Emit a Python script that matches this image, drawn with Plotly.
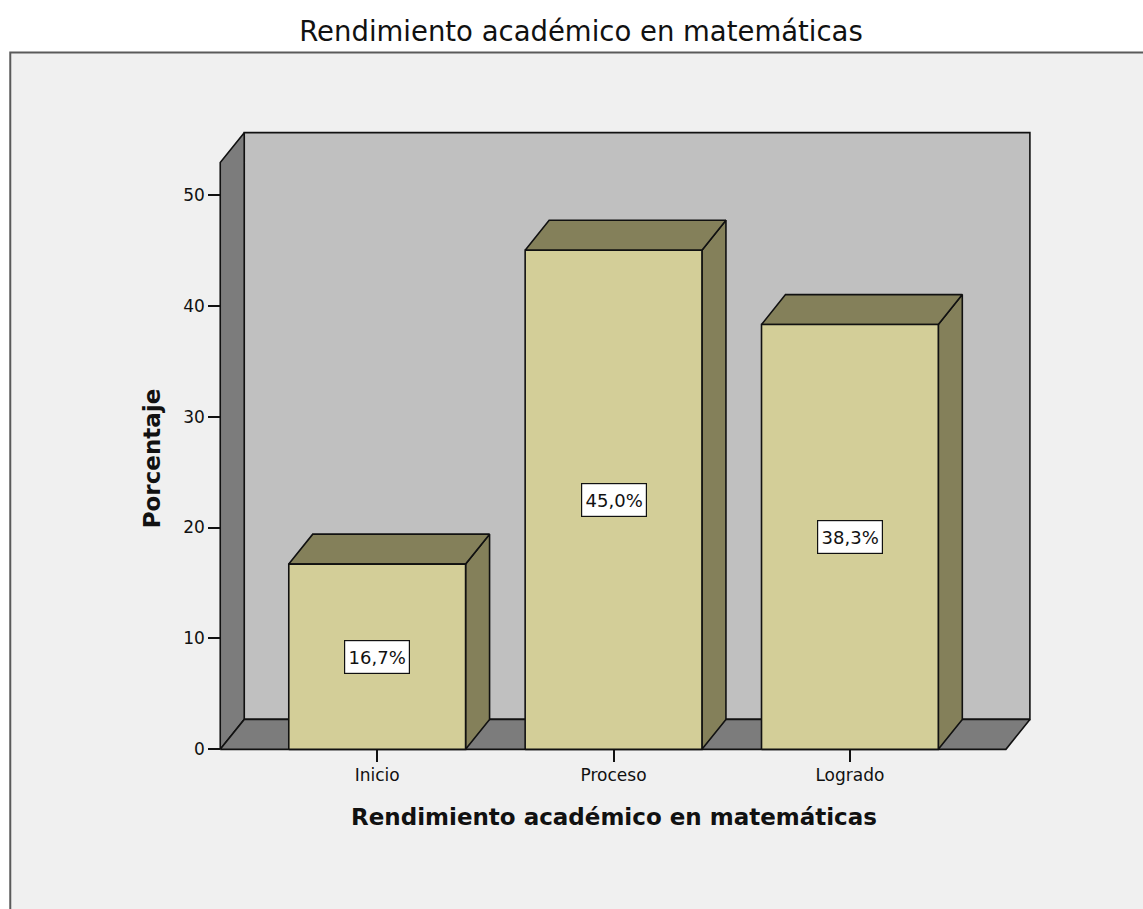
import plotly.graph_objects as go

# ---- data ----
categories = ["Inicio", "Proceso", "Logrado"]
percentages = [16.7, 45.0, 38.3]
y_ticks = [0, 10, 20, 30, 40, 50]
title_text = "Rendimiento académico en matemáticas"
x_title = "Rendimiento académico en matemáticas"
y_title = "Porcentaje"

# ---- style / geometry ----
FONT = "DejaVu Sans"
W, H = 1143, 909
HALF = 0.374                 # half bar width (category units)
DX, DY = 0.1015, 2.7         # 3D depth offset (data units)
X0, X1 = -0.664, 2.66        # front plane extent
YTOP = 52.9                  # front wall top
XMIN, XMAX = -0.72, 2.80
YMIN, YMAX = -0.6, 56.2
PXX, PXY = 236.4, 11.08      # px per unit
X0PX, Y0PX = 220, 749        # pixel of (X0, 0)

left = X0PX - (X0 - XMIN) * PXX
pw = (XMAX - XMIN) * PXX
bottom_px = Y0PX + (0 - YMIN) * PXY
ph = (YMAX - YMIN) * PXY
m_l = left
m_r = W - left - pw
m_b = H - bottom_px
m_t = bottom_px - ph

def px_to_paper_x(p):
    return (p - left) / pw

def px_to_paper_y(p):
    return (bottom_px - p) / ph

FRONT = "#d3ce98"
DARK = "#84805a"
BACKWALL = "#c0c0c0"
SIDEWALL = "#7c7c7c"
EDGE = "#111111"

fig = go.Figure()

def poly(xs, ys, color):
    fig.add_trace(go.Scatter(
        x=xs + [xs[0]], y=ys + [ys[0]], mode="lines", fill="toself",
        fillcolor=color, line=dict(color=EDGE, width=1.6),
        hoverinfo="skip", showlegend=False))

# back wall
poly([X0 + DX, X1 + DX, X1 + DX, X0 + DX], [DY, DY, YTOP + DY, YTOP + DY], BACKWALL)
# left wall
poly([X0, X0, X0 + DX, X0 + DX], [0, YTOP, YTOP + DY, DY], SIDEWALL)
# floor
poly([X0, X1, X1 + DX, X0 + DX], [0, 0, DY, DY], SIDEWALL)

# bars
for i, v in enumerate(percentages):
    a, b = i - HALF, i + HALF
    poly([b, b, b + DX, b + DX], [0, v, v + DY, DY], DARK)                # side
    poly([a, b, b + DX, a + DX], [v, v, v + DY, v + DY], DARK)            # top
    poly([a, b, b, a], [0, 0, v, v], FRONT)                               # front
    fig.add_annotation(
        x=i, y=v / 2, text=f"{v:.1f}%".replace(".", ","), showarrow=False,
        font=dict(family=FONT, size=18, color="#111111"),
        width=58, height=26, align="center", valign="middle",
        bgcolor="white", bordercolor="#111111", borderwidth=1.2, borderpad=3)

# axis titles
fig.add_annotation(x=px_to_paper_x(613.5), y=px_to_paper_y(817), xref="paper",
                   yref="paper", text=f"<b>{x_title}</b>", showarrow=False,
                   xanchor="center", yanchor="middle",
                   font=dict(family=FONT, size=23, color="#111111"))
fig.add_annotation(x=px_to_paper_x(152), y=px_to_paper_y(458), xref="paper",
                   yref="paper", text=f"<b>{y_title}</b>", showarrow=False,
                   textangle=-90, xanchor="center", yanchor="middle",
                   font=dict(family=FONT, size=23, color="#111111"))

# chart frame
fig.add_shape(type="rect", xref="paper", yref="paper",
              x0=px_to_paper_x(10), x1=1.5, y0=-0.6, y1=px_to_paper_y(53),
              fillcolor="#f0f0f0", line=dict(color="#5a5a5a", width=2),
              layer="below")

fig.update_layout(
    width=W, height=H,
    margin=dict(l=m_l, r=m_r, t=m_t, b=m_b, pad=0),
    paper_bgcolor="white", plot_bgcolor="rgba(0,0,0,0)",
    font=dict(family=FONT, size=17, color="#111111"),
    title=dict(text=title_text, x=581 / W, xanchor="center",
               y=1 - 31 / H, yanchor="middle", yref="container",
               font=dict(family=FONT, size=27.5, color="#111111")),
    xaxis=dict(range=[XMIN, XMAX], tickvals=list(range(len(categories))),
               ticktext=categories, ticks="outside", ticklen=12,
               tickcolor="#111111", tickwidth=1.5, showgrid=False,
               zeroline=False, showline=False, anchor="free",
               position=(0 - YMIN) / (YMAX - YMIN), ticklabelstandoff=-2,
               tickfont=dict(family=FONT, size=17, color="#111111")),
    yaxis=dict(range=[YMIN, YMAX], tickvals=y_ticks, ticks="outside",
               ticklen=12, tickcolor="#111111", tickwidth=1.5,
               showgrid=False, zeroline=False, showline=False,
               anchor="free", position=(X0 - XMIN) / (XMAX - XMIN),
               tickfont=dict(family=FONT, size=17, color="#111111")),
)

fig.write_html(
    "out.html",
    config={"displayModeBar": False},
    post_script="document.body.style.margin='0';"
                "document.body.style.overflow='hidden';")
